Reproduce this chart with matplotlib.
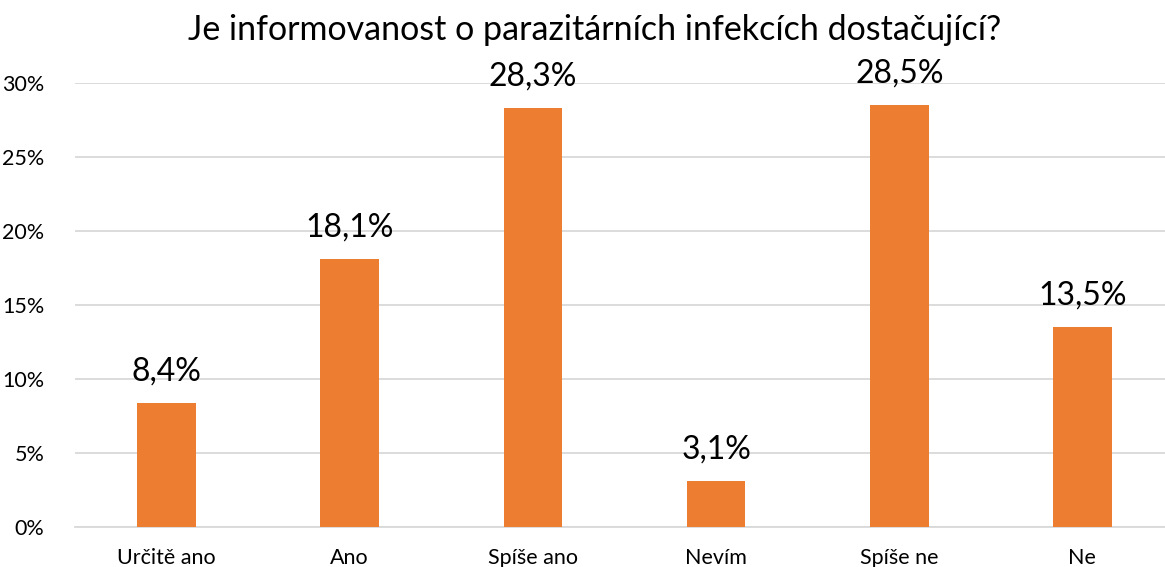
import numpy as np
import matplotlib.pyplot as plt

plt.rcParams['font.family'] = ['Lato', 'DejaVu Sans']

categories = ['Určitě ano', 'Ano', 'Spíše ano', 'Nevím', 'Spíše ne', 'Ne']
values = [8.4, 18.1, 28.3, 3.1, 28.5, 13.5]
yticks = [0, 5, 10, 15, 20, 25, 30]

fig = plt.figure(figsize=(11.65, 5.67), dpi=100)
ax = fig.add_axes([75/1165, 1 - 527/567, 1099/1165, (527 - 83)/567])

x = np.arange(len(categories))
ax.bar(x, values, width=0.32, color='#ED7D31', zorder=3)
for xi, v in zip(x, values):
    ax.text(xi, v + 1.1, f'{v:.1f}%'.replace('.', ','), ha='center', va='bottom',
            fontsize=23, color='black')

ax.set_xlim(-0.5, len(categories) - 0.5)
ax.set_ylim(0, 30)
ax.set_yticks(yticks)
ax.set_yticklabels([f'{t}%' for t in yticks], fontsize=15.5)
ax.set_xticks(x)
ax.set_xticklabels(categories, fontsize=15.5)
ax.tick_params(length=0)
ax.tick_params(axis='y', pad=22)
ax.tick_params(axis='x', pad=15)
ax.grid(axis='y', color='#D9D9D9', linewidth=1.3, zorder=0)
for s in ['top', 'right', 'left']:
    ax.spines[s].set_visible(False)
ax.spines['bottom'].set_color('#D9D9D9')
ax.spines['bottom'].set_linewidth(1.3)

fig.text(595/1165, 1 - 30/567, 'Je informovanost o parazitárních infekcích dostačující?',
         ha='center', va='center', fontsize=24.5)

fig.savefig('out.png', dpi=100)
